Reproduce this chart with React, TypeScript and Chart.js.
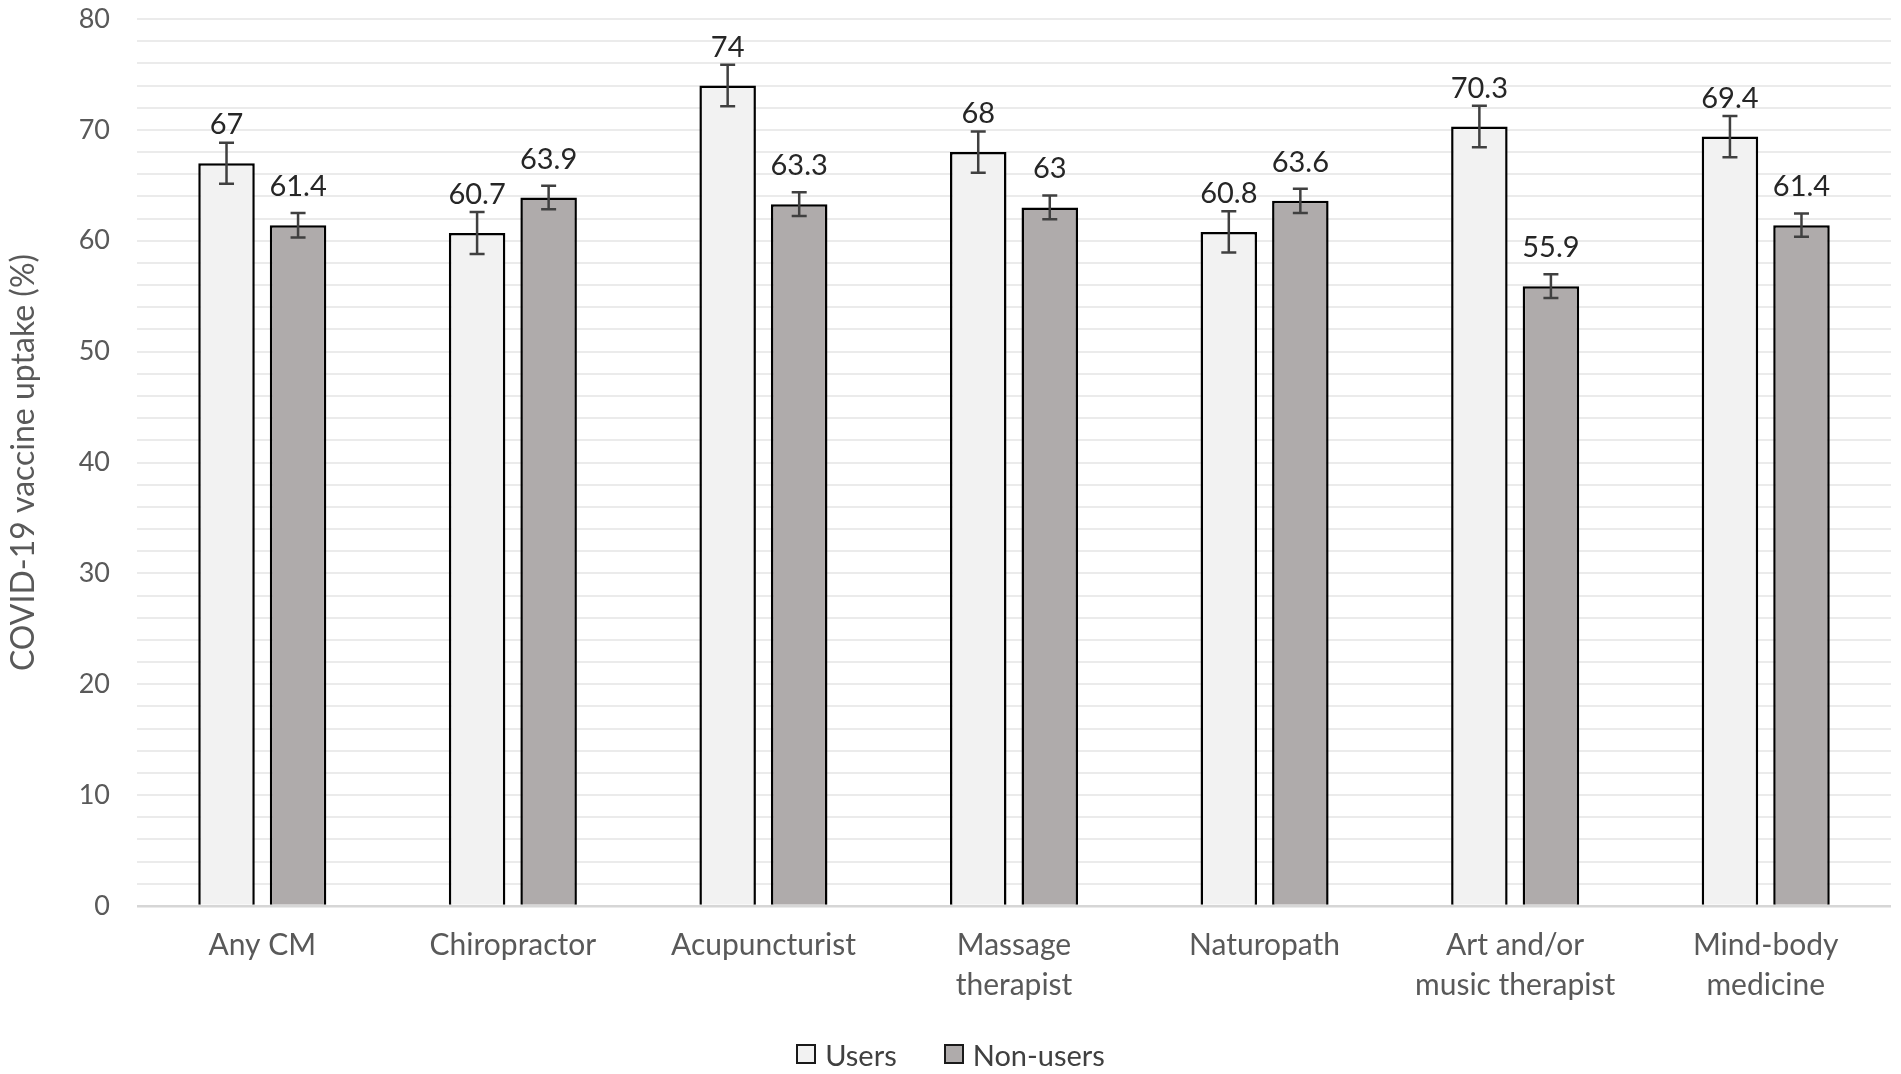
import { useEffect, useRef } from 'react';
import { Chart, registerables } from 'chart.js';
Chart.register(...registerables);

const CATEGORIES = [
  ['Any CM'],
  ['Chiropractor'],
  ['Acupuncturist'],
  ['Massage', 'therapist'],
  ['Naturopath'],
  ['Art and/or', 'music therapist'],
  ['Mind-body', 'medicine'],
];
const USERS = [67, 60.7, 74, 68, 60.8, 70.3, 69.4];
const NON_USERS = [61.4, 63.9, 63.3, 63, 63.6, 55.9, 61.4];
const USERS_ERR = [1.85, 1.9, 1.88, 1.86, 1.85, 1.87, 1.86];
const NON_USERS_ERR = [1.1, 1.05, 1.07, 1.07, 1.1, 1.07, 1.05];
const Y_MAX = 80;
const Y_STEP = 2;
const LABEL_STEP = 10;

const FONT = 'Lato, "Open Sans", sans-serif';
const USERS_FILL = '#f2f2f2';
const NON_USERS_FILL = '#afabab';

// error bars + value labels drawn on top of the bars
const errorBars = {
  id: 'errorBars',
  afterDatasetsDraw(chart: any) {
    const { ctx } = chart;
    const y = chart.scales.y;
    chart.data.datasets.forEach((ds: any, i: number) => {
      const meta = chart.getDatasetMeta(i);
      meta.data.forEach((bar: any, j: number) => {
        const v = ds.data[j];
        const e = ds.errors[j];
        const top = y.getPixelForValue(v + e);
        const bot = y.getPixelForValue(v - e);
        ctx.save();
        ctx.strokeStyle = '#404040';
        ctx.lineWidth = 2.5;
        ctx.beginPath();
        ctx.moveTo(bar.x, top);
        ctx.lineTo(bar.x, bot);
        ctx.moveTo(bar.x - 7.5, top);
        ctx.lineTo(bar.x + 7.5, top);
        ctx.moveTo(bar.x - 7.5, bot);
        ctx.lineTo(bar.x + 7.5, bot);
        ctx.stroke();
        ctx.fillStyle = '#262626';
        ctx.font = `29px ${FONT}`;
        ctx.textAlign = 'center';
        ctx.textBaseline = 'alphabetic';
        ctx.fillText(String(v), bar.x, bar.y - 29);
        ctx.restore();
      });
    });
  },
};

export default function App() {
  const canvasRef = useRef<HTMLCanvasElement>(null);

  useEffect(() => {
    if (!canvasRef.current) return;
    const chart = new Chart(canvasRef.current, {
      type: 'bar',
      data: {
        labels: CATEGORIES,
        datasets: [
          {
            label: 'Users',
            data: USERS,
            errors: USERS_ERR,
            backgroundColor: USERS_FILL,
            borderColor: '#000',
            borderWidth: 2.5,
            categoryPercentage: 0.571,
            barPercentage: 0.79,
          } as any,
          {
            label: 'Non-users',
            data: NON_USERS,
            errors: NON_USERS_ERR,
            backgroundColor: NON_USERS_FILL,
            borderColor: '#000',
            borderWidth: 2.5,
            categoryPercentage: 0.571,
            barPercentage: 0.79,
          } as any,
        ],
      },
      options: {
        responsive: true,
        maintainAspectRatio: false,
        animation: false,
        layout: { padding: { top: 19, right: 10, left: 0, bottom: 0 } },
        plugins: { legend: { display: false }, tooltip: { enabled: false } },
        scales: {
          x: {
            grid: { display: false, drawTicks: false },
            border: { display: false },
            ticks: {
              color: '#595959',
              padding: 19,
              maxRotation: 0,
              autoSkip: false,
              font: { family: FONT, size: 30, lineHeight: 1.33 },
            },
            afterFit: (s: any) => { s.height = 168; },
          },
          y: {
            min: 0,
            max: Y_MAX,
            grid: {
              drawTicks: false,
              lineWidth: (c: any) => (c.tick && c.tick.value === 0 ? 2.5 : 2),
              color: (c: any) => (c.tick && c.tick.value === 0 ? '#d6d6d6' : '#ebebeb'),
            },
            border: { display: false },
            ticks: {
              stepSize: Y_STEP,
              autoSkip: false,
              padding: 27,
              color: '#595959',
              font: { family: FONT, size: 27 },
              callback: (v: any) => (Number(v) % LABEL_STEP === 0 ? String(v) : ''),
            },
            title: {
              display: true,
              text: 'COVID-19 vaccine uptake (%)',
              color: '#595959',
              font: { family: FONT, size: 32 },
              padding: { top: 4, bottom: 0 },
            },
            afterFit: (s: any) => {
              s.width = 137;
              s.paddingTop = 0;
              s.paddingBottom = 0;
            },
          },
        },
      },
      plugins: [errorBars],
    });
    return () => chart.destroy();
  }, []);

  const legend = [
    ['Users', USERS_FILL],
    ['Non-users', NON_USERS_FILL],
  ];

  return (
    <div style={{ position: 'absolute', left: 0, top: 0, width: 1901, height: 1074, background: '#fff' }}>
      <div style={{ position: 'absolute', left: 0, top: 0, width: 1901, height: 1074 }}>
        <canvas ref={canvasRef} />
      </div>
      {/* legend */}
      <div style={{ position: 'absolute', left: 0, top: 1036, width: 1901, height: 36, display: 'flex', justifyContent: 'center', alignItems: 'center', gap: 47, fontFamily: FONT, fontSize: 29, color: '#404040' }}>
        {legend.map(([label, fill]) => (
          <div key={label} style={{ display: 'flex', alignItems: 'center' }}>
            <span style={{ width: 20, height: 20, boxSizing: 'border-box', border: '2.5px solid #1a1a1a', background: fill, marginRight: 9, display: 'inline-block' }} />
            <span>{label}</span>
          </div>
        ))}
      </div>
    </div>
  );
}
